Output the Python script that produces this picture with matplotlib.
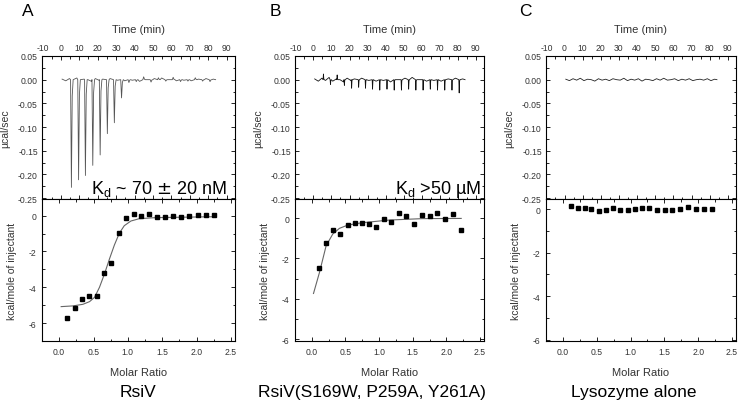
import numpy as np
import matplotlib.pyplot as plt
from matplotlib.ticker import MultipleLocator, FormatStrFormatter

plt.rcParams['font.family'] = ['Liberation Sans', 'DejaVu Sans']
plt.rcParams['axes.unicode_minus'] = False

W, H = 742, 406

# injection times (min), same schedule for the three runs
inj_time = [5.4, 9.3, 13.0, 17.0, 21.0, 24.9, 28.7, 32.6, 36.6, 40.6,
            44.6, 48.6, 52.6, 56.6, 60.6, 64.6, 68.6, 72.6, 76.6, 80.6]
# peak heights (ucal/sec)
peak_a = [-0.2275, -0.2115, -0.2024, -0.181, -0.159, -0.114, -0.091, -0.0385, -0.006, -0.004,
          0.006, -0.005, 0.004, -0.003, 0.005, -0.004, -0.003, 0.004, -0.003, -0.004]
peak_b = [0.012, -0.010, 0.010, -0.012, -0.018, -0.016, -0.018, -0.020, -0.022, -0.020,
          -0.022, -0.022, -0.020, -0.022, -0.022, -0.020, -0.022, -0.022, -0.022, -0.028]
# baseline wiggle (x1e-3), every 2 min from 0.7 min
noise = [1, -2, 2, -1, 3, -2, 1, 0, -3, 2, -1, 1, -2, 2, 0, -1, 3, -2, 1, -1, 2,
         -3, 1, 0, -2, 2, -1, 3, -1, 0, 2, -2, 1, -1, 2, -2, 0, 1, -1, 2, -2, 1]

# integrated heats (kcal/mole of injectant)
ratio_a = [0.121, 0.227, 0.332, 0.433, 0.544, 0.649, 0.756, 0.866, 0.977, 1.088,
           1.198, 1.309, 1.424, 1.544, 1.659, 1.781, 1.896, 2.016, 2.131, 2.251]
heat_a = [-5.69, -5.13, -4.63, -4.47, -4.47, -3.22, -2.66, -0.97, -0.11, 0.10,
          -0.03, 0.08, -0.09, -0.09, 0.00, -0.09, -0.02, 0.04, 0.06, 0.06]
fit_ra = [0.029, 0.202, 0.346, 0.443, 0.515, 0.587, 0.659, 0.732, 0.804, 0.876,
          0.948, 1.044, 1.165, 1.405, 1.742, 2.251]
fit_ha = [-5.08, -5.04, -4.95, -4.80, -4.56, -4.00, -3.26, -2.42, -1.64, -0.98,
          -0.56, -0.30, -0.17, -0.11, -0.09, -0.06]

ratio_b = [0.114, 0.218, 0.322, 0.426, 0.534, 0.638, 0.742, 0.852, 0.960, 1.074,
           1.183, 1.291, 1.405, 1.519, 1.638, 1.751, 1.865, 1.984, 2.102, 2.221]
heat_b = [-2.49, -1.24, -0.59, -0.81, -0.36, -0.25, -0.23, -0.31, -0.45, -0.07,
          -0.18, 0.26, 0.11, -0.31, 0.16, 0.08, 0.25, -0.07, 0.21, -0.58]
fit_rb = [0.025, 0.114, 0.213, 0.312, 0.411, 0.534, 0.757, 1.153, 1.647, 2.221]
fit_hb = [-3.73, -2.69, -1.37, -0.79, -0.51, -0.35, -0.23, -0.10, -0.03, -0.02]

ratio_c = [0.12, 0.22, 0.32, 0.42, 0.53, 0.64, 0.74, 0.85, 0.96, 1.06,
           1.17, 1.28, 1.39, 1.51, 1.62, 1.73, 1.85, 1.97, 2.09, 2.21]
heat_c = [0.12, 0.05, 0.03, 0.02, -0.09, -0.05, 0.05, -0.03, -0.06, 0.02,
          0.03, 0.03, -0.03, -0.05, -0.03, 0.00, 0.11, -0.02, 0.00, -0.02]


def trace(peaks, scale, sw):
    # sw: spike width factor
    pts = []
    for i, n in enumerate(noise):
        t = 0.7 + 2 * i
        if peaks is None or all(not (ti - 0.2 <= t <= ti + 1.4 * sw) for ti in inj_time):
            pts.append((t, n * scale * 1e-3))
    if peaks is not None:
        for ti, d in zip(inj_time, peaks):
            pts += [(ti - 0.1 * sw, 0.0), (ti + 0.35 * sw, d),
                    (ti + 0.8 * sw, 0.15 * d), (ti + 1.3 * sw, 0.0)]
    pts.append((84.0, 0.0))
    pts.sort()
    return [p[0] for p in pts], [p[1] for p in pts]


panels = [
    dict(letter='A', x0=42, x1=235, peaks=peak_a, ns=1.2, sw=1.0, tc='#555555', tlw=0.6,
         r=ratio_a, h=heat_a, fr=fit_ra, fh=fit_ha, ylim=(-7.0, 0.93),
         kd=r'K$_\mathregular{d}$ ~ 70 $\pm$ 20 nM', kdx=227,
         title='RsiV', tx=138),
    dict(letter='B', x0=295, x1=484, peaks=peak_b, ns=1.6, sw=0.45, tc='#111111', tlw=0.6,
         r=ratio_b, h=heat_b, fr=fit_rb, fh=fit_hb, ylim=(-6.08, 0.94),
         kd=r'K$_\mathregular{d}$ >50 µM', kdx=481,
         title='RsiV(S169W, P259A, Y261A)', tx=372),
    dict(letter='C', x0=546, x1=736, peaks=None, ns=1.0, sw=1.0, tc='#222222', tlw=0.6,
         r=ratio_c, h=heat_c, fr=None, fh=None, ylim=(-6.06, 0.46),
         kd=None, kdx=None, title='Lysozyme alone', tx=634),
]

fig = plt.figure(figsize=(W / 100, H / 100), dpi=100)

top_y0, top_y1 = 57, 200
bot_y0, bot_y1 = 200, 342
tick_fs = 6.2

for p in panels:
    w = (p['x1'] - p['x0']) / W
    ax1 = fig.add_axes([p['x0'] / W, 1 - top_y1 / H, w, (top_y1 - top_y0) / H])
    ax2 = fig.add_axes([p['x0'] / W, 1 - bot_y1 / H, w, (bot_y1 - bot_y0) / H])

    t, y = trace(p['peaks'], p['ns'], p['sw'])
    ax1.plot(t, y, color=p['tc'], lw=p['tlw'])
    ax1.set_xlim(-10.2, 94.5)
    ax1.set_ylim(-0.252, 0.05)
    ax1.xaxis.set_major_locator(MultipleLocator(10))
    ax1.xaxis.set_minor_locator(MultipleLocator(5))
    ax1.yaxis.set_major_locator(MultipleLocator(0.05))
    ax1.yaxis.set_minor_locator(MultipleLocator(0.025))
    ax1.yaxis.set_major_formatter(FormatStrFormatter('%.2f'))
    ax1.tick_params(which='both', direction='in', top=True, right=True,
                    labeltop=True, labelbottom=False, width=0.6, labelsize=tick_fs,
                    labelcolor='#333333')
    ax1.tick_params(which='major', length=3, pad=3)
    ax1.tick_params(which='minor', length=1.8)
    ax1.xaxis.set_label_position('top')
    ax1.set_xlabel('Time (min)', fontsize=8, color='#333333')
    ax1.xaxis.set_label_coords(0.5, 1 + 24 / (top_y1 - top_y0))
    ax1.set_ylabel('µcal/sec', fontsize=7.5, color='#333333')
    ax1.yaxis.set_label_coords(-32 / (p['x1'] - p['x0']), 0.5)
    if p['kd']:
        ax1.text(p['kdx'] / W, 1 - 194 / H, p['kd'], transform=fig.transFigure,
                 ha='right', va='baseline', fontsize=13)

    if p['fr'] is not None:
        ax2.plot(p['fr'], p['fh'], color='#666666', lw=0.8)
    ax2.plot(p['r'], p['h'], 's', color='black', ms=3.4)
    ax2.set_xlim(-0.25, 2.56)
    ax2.set_ylim(*p['ylim'])
    ax2.xaxis.set_major_locator(MultipleLocator(0.5))
    ax2.xaxis.set_minor_locator(MultipleLocator(0.25))
    ax2.yaxis.set_major_locator(MultipleLocator(2))
    ax2.yaxis.set_minor_locator(MultipleLocator(1))
    ax2.xaxis.set_major_formatter(FormatStrFormatter('%.1f'))
    ax2.tick_params(which='both', direction='in', top=True, right=True,
                    width=0.6, labelsize=tick_fs, labelcolor='#333333')
    ax2.tick_params(which='major', length=3, pad=4)
    ax2.tick_params(which='minor', length=1.8)
    ax2.set_xlabel('Molar Ratio', fontsize=8, color='#333333')
    ax2.xaxis.set_label_coords(0.5, -26 / (bot_y1 - bot_y0))
    ax2.set_ylabel('kcal/mole of injectant', fontsize=7.5, color='#333333')
    ax2.yaxis.set_label_coords(-25 / (p['x1'] - p['x0']), 0.5)

    for ax in (ax1, ax2):
        for s in ax.spines.values():
            s.set_linewidth(0.8)

    letter_x = {'A': 28, 'B': 275, 'C': 525}[p['letter']]
    fig.text(letter_x / W, 1 - 11 / H, p['letter'], ha='center', va='center', fontsize=12.5)
    fig.text(p['tx'] / W, 1 - 393 / H, p['title'], ha='center', va='center', fontsize=12.5)

fig.savefig('out.png', dpi=100)
